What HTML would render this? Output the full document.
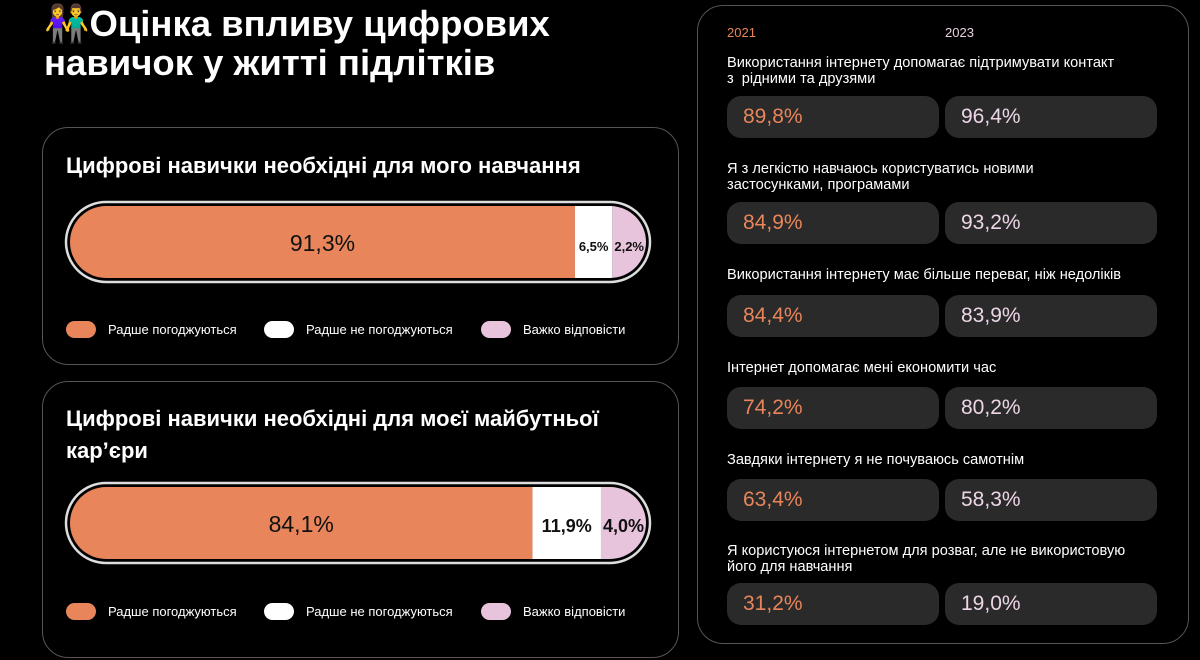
<!DOCTYPE html>
<html><head><meta charset="utf-8">
<style>
body{margin:0;width:1200px;height:660px;background:#000;overflow:hidden;font-family:"Liberation Sans","DejaVu Sans",sans-serif;color:#fff;position:relative}
.abs{position:absolute}
.card{position:absolute;border:1.5px solid #555;border-radius:26px}
.title{font-weight:bold}
.leg{position:absolute;font-size:13px;color:#fff;display:flex;align-items:center}
.leg i{display:inline-block;width:30px;height:17px;border-radius:9px;margin-right:12px}
.box{position:absolute;width:212px;height:42px;border-radius:14px;background:#2a2a2a;font-size:21px;line-height:42px;box-sizing:border-box;padding-left:16px}
.lbl{position:absolute;left:727px;font-size:14.6px;line-height:16px;color:#fff;width:450px}
</style></head><body>
<div class="abs title" style="left:44px;top:4px;font-size:36.5px;line-height:39px">👫Оцінка впливу цифрових<br>навичок у житті підлітків</div>

<div class="card" style="left:42px;top:127px;width:635px;height:236px"></div>
<div class="abs title" style="left:66px;top:153px;font-size:22px">Цифрові навички необхідні для мого навчання</div>
<div class="card" style="left:42px;top:381px;width:635px;height:275px"></div>
<div class="abs title" style="left:66px;top:403px;font-size:22px;line-height:32px">Цифрові навички необхідні для моєї майбутньої<br>кар’єри</div>

<svg class="abs" style="left:0;top:0" width="1200" height="660" id="bars"></svg>

<div class="card" style="left:697px;top:5px;width:490px;height:637px"></div>
<div class="abs" style="left:727px;top:25px;font-size:13px;color:#e8855a">2021</div>
<div class="abs" style="left:945px;top:25px;font-size:13px;color:#e8d0e0">2023</div>
<div id="rows"></div>

<script>
const barLabels=["study","career"];
const agree=[91.3,84.1];
const disagree=[6.5,11.9];
const hard=[2.2,4.0];
const legendNames=["Радше погоджуються","Радше не погоджуються","Важко відповісти"];

const rowLabels=["Використання інтернету допомагає підтримувати контакт<br>з&nbsp; рідними та друзями","Я з легкістю навчаюсь користуватись новими<br>застосунками, програмами","Використання інтернету має більше переваг, ніж недоліків","Інтернет допомагає мені економити час","Завдяки інтернету я не почуваюсь самотнім","Я користуюся інтернетом для розваг, але не використовую<br>його для навчання"];
const v2021=[89.8,84.9,84.4,74.2,63.4,31.2];
const v2023=[96.4,93.2,83.9,80.2,58.3,19.0];

const fmt=v=>v.toFixed(1).replace('.',',')+'%';
const NS="http://www.w3.org/2000/svg";
const svg=document.getElementById('bars');
const barTops=[202,483], x0=70, x1=646, W=x1-x0;
const sx=v=>v/100*W;
const colors=["#e8855a","#ffffff","#e8c4dc"];
function mk(t,a,p){const e=document.createElementNS(NS,t);for(const k in a)e.setAttribute(k,a[k]);(p||svg).appendChild(e);return e;}
barLabels.forEach((b,i)=>{
  const y=barTops[i];
  const clipId='clip'+i;
  const defs=mk('defs',{});
  const cp=mk('clipPath',{id:clipId},defs);
  mk('rect',{x:x0,y:y+4,width:W,height:72,rx:36},cp);
  const outer=mk('rect',{x:66,y:y,width:584,height:80,rx:40,fill:'none',stroke:'#ddd','stroke-width':2.5});
  
  
  const vals=[agree[i],disagree[i],hard[i]];
  const g=mk('g',{'clip-path':'url(#'+clipId+')'});
  const rects=[],texts=[];
  vals.forEach((v,j)=>{
    const r=mk('rect',{y:y+4,height:72,fill:colors[j]},g);
    
    
    rects.push(r);
  });
  vals.forEach((v,j)=>{
    const t=mk('text',{y:y+49,'text-anchor':'middle','font-size':j==0?23:(i==0?13:18),'font-weight':j==0?'500':'bold',fill:'#111','font-family':'Liberation Sans, sans-serif'});
    t.textContent=fmt(v);
    
    
    texts.push(t);
  });
  const ws=vals.map((v,j)=>j==0?0:Math.max(sx(v),texts[j].getComputedTextLength()+4));
  ws[0]=W-ws[1]-ws[2];
  let cx=x0;
  vals.forEach((v,j)=>{
    rects[j].setAttribute('x',cx);rects[j].setAttribute('width',ws[j]);
    texts[j].setAttribute('x',cx+ws[j]/2);
    cx+=ws[j];
  });
  const ly=[321,603][i];
  const lx=[66,264,481];
  legendNames.forEach((n,j)=>{
    const d=document.createElement('div');d.className='leg';
    d.style.left=lx[j]+'px';d.style.top=ly+'px';
    d.innerHTML='<i style="background:'+colors[j]+'"></i>'+n;
    
    
    document.body.appendChild(d);
  });
});

const rows=document.getElementById('rows');
const labelTops=[55,161,267,360,452,543];
const boxTops=[96,202,295,387,479,583];
rowLabels.forEach((l,i)=>{
  const d=document.createElement('div');d.className='lbl';d.style.top=labelTops[i]+'px';d.innerHTML=l;
  
  
  rows.appendChild(d);
  const a=document.createElement('div');a.className='box';a.style.left='727px';a.style.top=boxTops[i]+'px';a.style.color='#e8855a';a.textContent=fmt(v2021[i]);
  
  
  rows.appendChild(a);
  const b=document.createElement('div');b.className='box';b.style.left='945px';b.style.top=boxTops[i]+'px';b.style.color='#ecd6e6';b.textContent=fmt(v2023[i]);
  
  
  rows.appendChild(b);
});
</script>
</body></html>
